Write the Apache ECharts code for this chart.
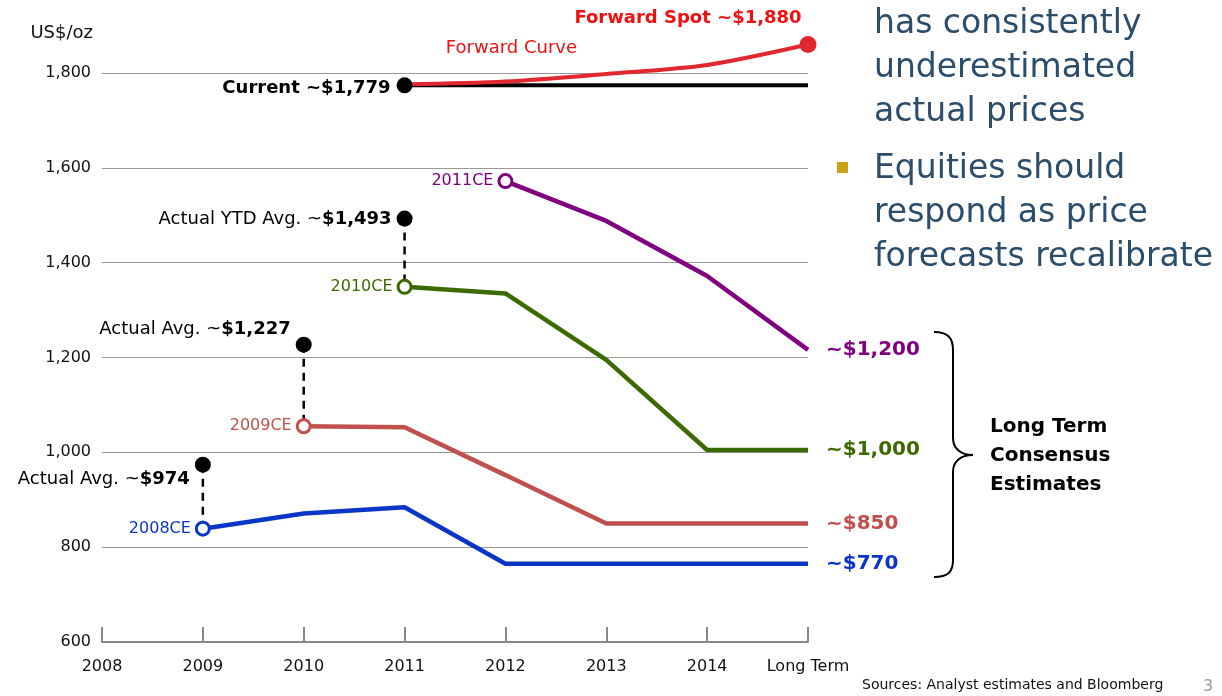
<!DOCTYPE html>
<html>
<head>
<meta charset="utf-8">
<title>Gold price forecasts</title>
<script src="https://cdn.jsdelivr.net/npm/echarts@6/dist/echarts.min.js"></script>
<style>
  html, body { margin: 0; padding: 0; background: #fff; }
  #chart { width: 1222px; height: 696px; }
</style>
</head>
<body>
<div id="chart"></div>
<script>
// x categories
const years = ['2008', '2009', '2010', '2011', '2012', '2013', '2014', 'Long Term']

// consensus estimates (null = not yet forecast)
const ce2008 = [null, 839, 871, 884, 765, 765, 765, 765]
const ce2009 = [null, null, 1055, 1053, 952, 850, 850, 850]
const ce2010 = [null, null, null, 1349, 1335, 1195, 1005, 1005]
const ce2011 = [null, null, null, null, 1572, 1488, 1372, 1216]

// actual averages
const actualYears = ['2009', '2010', '2011']
const actualVals = [974, 1227, 1493]
const actualText = ['Actual Avg. ~', 'Actual Avg. ~', 'Actual YTD Avg. ~']

// current spot and forward curve
const currentLine = [null, null, null, 1774, 1774, 1774, 1774, 1774]
const forwardCurve = [null, null, null, 1776, 1782, 1798, 1817, 1860]

// y axis ticks
const yMin = 600
const yMax = 1800
const yStep = 200

const FONT = '"DejaVu Sans", Verdana, sans-serif'

const fmt = v => '$' + v.toLocaleString('en-US')

const chart = echarts.init(document.getElementById('chart'))

// one consensus line: hollow circle + name at start, value at the end
const estimateSeries = (name, vals, color, ltText) => {
  const first = vals.findIndex(v => v != null)
  const last = vals.length - 1
  return {
    name: name,
    type: 'line',
    z: 3,
    symbol: 'circle',
    symbolSize: 0,
    lineStyle: { color: color, width: 4.5 },
    itemStyle: { color: color },
    data: vals.map((v, i) => {
      if (i === first) {
        return {
          value: v,
          symbolSize: 13,
          itemStyle: { color: '#fff', borderColor: color, borderWidth: 3 },
          label: {
            show: true, position: 'left', distance: 4,
            formatter: name, color: color, fontSize: 16, fontFamily: FONT
          }
        }
      }
      if (i === last) {
        return {
          value: v,
          label: {
            show: true, position: 'right', distance: 18,
            formatter: ltText, color: color, fontSize: 20, fontWeight: 'bold', fontFamily: FONT
          }
        }
      }
      return v
    })
  }
}

// dashed drop from actual average down to that year's estimate
const dropSeries = (year, top, bottom) => ({
  type: 'line',
  z: 2,
  symbol: 'none',
  lineStyle: { color: '#000', width: 2.5, type: [8, 6] },
  data: [[year, top], [year, bottom]]
})

const series = [
  dropSeries(actualYears[0], actualVals[0], ce2008[1]),
  dropSeries(actualYears[1], actualVals[1], ce2009[2]),
  dropSeries(actualYears[2], actualVals[2], ce2010[3]),
  estimateSeries('2008CE', ce2008, '#0a36c8', '~$770'),
  estimateSeries('2009CE', ce2009, '#c0504d', '~$850'),
  estimateSeries('2010CE', ce2010, '#3b6b00', '~$1,000'),
  estimateSeries('2011CE', ce2011, '#800080', '~$1,200'),
  {
    name: 'Actual',
    type: 'scatter',
    z: 5,
    symbolSize: 16,
    itemStyle: { color: '#000', opacity: 1 },
    data: actualVals.map((v, i) => ({
      value: [actualYears[i], v],
      label: {
        show: true,
        position: 'left',
        distance: 5,
        offset: i === 0 ? [0, 15] : (i === 1 ? [0, -15] : [0, 1]),
        formatter: '{n|' + actualText[i] + '}{b|' + fmt(v) + '}',
        rich: {
          n: { fontSize: 18, color: '#000', fontFamily: FONT },
          b: { fontSize: 18, color: '#000', fontWeight: 'bold', fontFamily: FONT }
        }
      }
    }))
  },
  {
    name: 'Current',
    type: 'line',
    z: 4,
    symbol: 'circle',
    symbolSize: 0,
    lineStyle: { color: '#000', width: 4 },
    itemStyle: { color: '#000' },
    data: currentLine.map((v, i) => i === 3 ? {
      value: v,
      symbolSize: 16,
      label: {
        show: true, position: 'left', distance: 6, offset: [0, 3],
        formatter: 'Current ~$1,779', color: '#000', fontSize: 18, fontWeight: 'bold', fontFamily: FONT
      }
    } : v)
  },
  {
    name: 'Forward Curve',
    type: 'line',
    z: 4,
    smooth: 0.3,
    clip: false,
    symbol: 'circle',
    symbolSize: 0,
    lineStyle: { color: '#e0282e', width: 4 },
    itemStyle: { color: '#e0282e' },
    data: forwardCurve.map((v, i) => {
      if (i === 4) {
        return {
          value: v,
          label: {
            show: true, position: 'top', distance: 5, offset: [6, -19],
            formatter: 'Forward Curve', color: '#f01010', fontSize: 18, fontFamily: FONT
          }
        }
      }
      if (i === 7) {
        return {
          value: v,
          symbolSize: 17,
          label: {
            show: true, position: 'top', distance: 5, offset: [-120, -4],
            formatter: 'Forward Spot ~$1,880', color: '#f01010', fontSize: 18, fontWeight: 'bold', fontFamily: FONT
          }
        }
      }
      return v
    })
  }
]

// brace pieces
const braceStyle = { fill: null, stroke: '#000', lineWidth: 2 }
const curve = (x1, y1, cpx1, cpy1, cpx2, cpy2, x2, y2) => ({
  type: 'bezierCurve',
  shape: { x1, y1, cpx1, cpy1, cpx2, cpy2, x2, y2 },
  style: braceStyle
})
const straight = (x1, y1, x2, y2) => ({
  type: 'line',
  shape: { x1, y1, x2, y2 },
  style: braceStyle
})

const option = {
  animation: false,
  textStyle: { fontFamily: FONT },
  grid: { left: 102, right: 414, top: 73, bottom: 54 },
  xAxis: {
    type: 'category',
    data: years,
    boundaryGap: false,
    axisLine: { lineStyle: { color: '#888', width: 2 } },
    axisTick: { inside: true, length: 15, interval: 0, lineStyle: { color: '#888', width: 2 } },
    axisLabel: { fontSize: 16, color: '#111', margin: 17, interval: 0, fontFamily: FONT }
  },
  yAxis: {
    type: 'value',
    min: yMin,
    max: yMax,
    interval: yStep,
    name: 'US$/oz',
    nameLocation: 'end',
    nameGap: 31,
    nameTextStyle: { fontSize: 18, color: '#111', align: 'right', padding: [0, 9, 0, 0], fontFamily: FONT },
    axisLine: { show: false },
    axisTick: { show: false },
    axisLabel: { fontSize: 16, color: '#111', margin: 11, fontFamily: FONT, formatter: v => v.toLocaleString('en-US') },
    splitLine: { lineStyle: { color: '#999', width: 1 } }
  },
  series: series,
  graphic: [
    // brace grouping the long term values
    curve(934, 332, 948, 332, 953, 338, 953, 350),
    straight(953, 350, 953, 438),
    curve(953, 438, 953, 448, 960, 455, 973, 455),
    curve(973, 455, 960, 455, 953, 462, 953, 472),
    straight(953, 472, 953, 560),
    curve(953, 560, 953, 572, 948, 577, 934, 577),
    {
      type: 'text',
      style: { x: 990, y: 412, text: 'Long Term\nConsensus\nEstimates', font: 'bold 20px ' + FONT, lineHeight: 29, fill: '#000' }
    },
    // slide text on the right
    {
      type: 'text',
      style: { x: 874, y: 2, text: 'has consistently\nunderestimated\nactual prices', font: '33px ' + FONT, lineHeight: 44, fill: '#2b4d6b' }
    },
    {
      type: 'rect',
      shape: { x: 837, y: 162, width: 11, height: 11 },
      style: { fill: '#c9a21a' }
    },
    {
      type: 'text',
      style: { x: 874, y: 147, text: 'Equities should\nrespond as price\nforecasts recalibrate', font: '33px ' + FONT, lineHeight: 44, fill: '#2b4d6b' }
    },
    {
      type: 'text',
      style: { x: 862, y: 685, text: 'Sources: Analyst estimates and Bloomberg', font: '14px ' + FONT, verticalAlign: 'middle', fill: '#111' }
    },
    {
      type: 'text',
      style: { x: 1203, y: 687, text: '3', font: '16px ' + FONT, verticalAlign: 'middle', fill: '#999' }
    }
  ]
}

chart.setOption(option)
window.addEventListener('resize', () => chart.resize())
</script>
</body>
</html>
